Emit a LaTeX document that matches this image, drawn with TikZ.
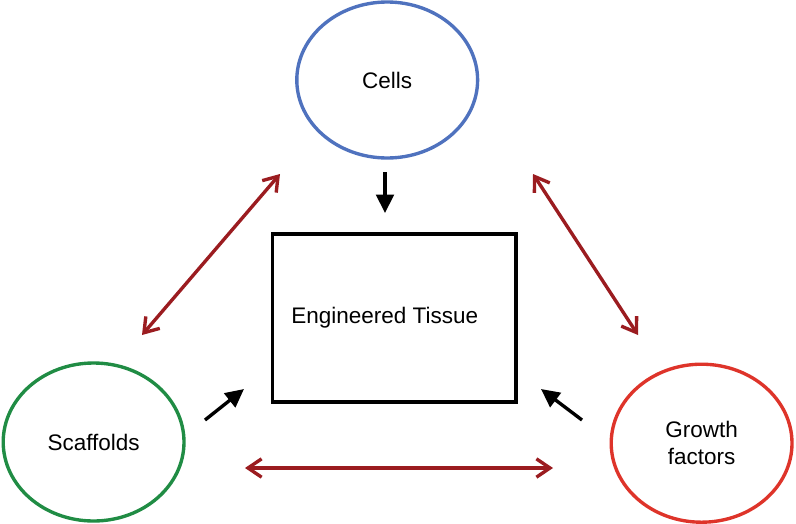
\documentclass[tikz,border=0pt]{standalone}
\usepackage{fontspec}
\setmainfont{Liberation Sans}
\usepackage{xcolor}
\usepackage{tikz}
\usetikzlibrary{shapes,arrows.meta}
\definecolor{cellblue}{RGB}{79,114,190}
\definecolor{scaffgreen}{RGB}{32,140,68}
\definecolor{gfred}{RGB}{222,52,42}
\definecolor{linkred}{RGB}{155,28,32}

\begin{document}
\begin{tikzpicture}[part/.style={ellipse, draw, line width=2.4pt, minimum width=4.52cm, minimum height=3.9cm, align=center, font=\fontsize{16}{19}\selectfont},
tissuebox/.style={draw, line width=2.4pt, minimum width=6.08cm, minimum height=4.2cm, font=\fontsize{16}{19}\selectfont},
link/.style={linkred, line width=2.4pt, {Straight Barb[length=3.4mm, width=4.6mm]}-{Straight Barb[length=3.4mm, width=4.6mm]}},
feed/.style={black, line width=2.4pt, -{Triangle[length=4.6mm, width=4.4mm]}}]
\useasboundingbox (0,0) rectangle (19.9,-13.075);
%text width
\node[part, draw=cellblue] (cells) at (9.68,-2.0) {Cells};
\node[part, draw=scaffgreen, minimum height=3.95cm] (scaff) at (2.34,-11.05) {Scaffolds};
\node[part, draw=gfred, minimum height=3.95cm] (growth) at (17.54,-11.08) {Growth\\factors};
\node[tissuebox] (tissue) at (9.86,-7.95) {Engineered Tissue\kern0.48cm\relax};
\coordinate (l1a) at (3.55,-8.375);
\coordinate (l1b) at (7.0,-4.35);
\coordinate (l2a) at (13.325,-4.35);
\coordinate (l2b) at (15.95,-8.375);
\coordinate (l3a) at (6.125,-11.7);
\coordinate (l3b) at (13.825,-11.7);
\coordinate (f1a) at (9.625,-4.3);
\coordinate (f1b) at (9.625,-5.325);
\coordinate (f2a) at (5.125,-10.5);
\coordinate (f2b) at (6.1,-9.725);
\coordinate (f3a) at (14.55,-10.5);
\coordinate (f3b) at (13.525,-9.725);
\draw [link] (l1a) -- (l1b);
\draw [link] (l2a) -- (l2b);
\draw [link] (l3a) -- (l3b);
\draw [feed] (f1a) -- (f1b);
\draw [feed] (f2a) -- (f2b);
\draw [feed] (f3a) -- (f3b);
\end{tikzpicture}
\end{document}
